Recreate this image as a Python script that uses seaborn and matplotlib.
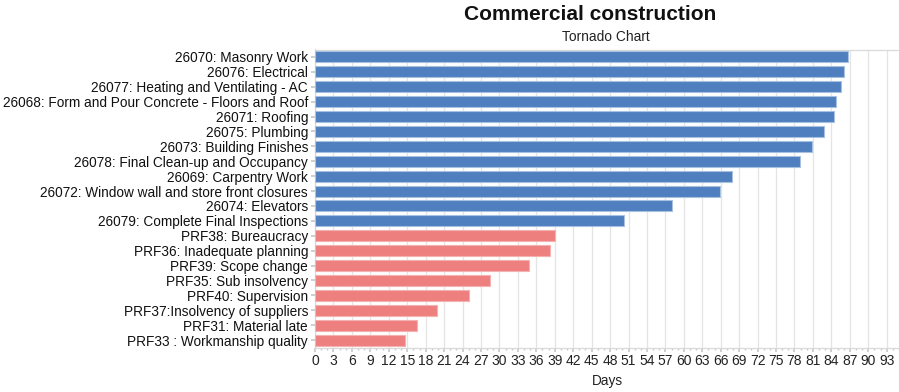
import matplotlib
matplotlib.use("Agg")
import matplotlib.pyplot as plt
import seaborn as sns
import pandas as pd
from matplotlib.ticker import MultipleLocator, FixedLocator

categories = [
    "26070: Masonry Work",
    "26076: Electrical",
    "26077: Heating and Ventilating - AC",
    "26068: Form and Pour Concrete - Floors and Roof",
    "26071: Roofing",
    "26075: Plumbing",
    "26073: Building Finishes",
    "26078: Final Clean-up and Occupancy",
    "26069: Carpentry Work",
    "26072: Window wall and store front closures",
    "26074: Elevators",
    "26079: Complete Final Inspections",
    "PRF38: Bureaucracy",
    "PRF36: Inadequate planning",
    "PRF39: Scope change",
    "PRF35: Sub insolvency",
    "PRF40: Supervision",
    "PRF37:Insolvency of suppliers",
    "PRF31: Material late",
    "PRF33 : Workmanship quality",
]
days = [86.7, 86.0, 85.5, 84.7, 84.5, 82.8, 80.8, 78.9, 67.8, 65.9, 58.1, 50.3,
        39.1, 38.2, 34.8, 28.4, 25.0, 19.9, 16.6, 14.6]
groups = ["Task"] * 12 + ["Risk"] * 8
x_ticks = list(range(0, 94, 3))
palette = {"Task": "#4f7fbf", "Risk": "#ee7f7f"}
edge_palette = {"Task": "#a9c1e0", "Risk": "#f5b0b0"}

df = pd.DataFrame({"category": categories, "days": days, "group": groups})

sns.set_theme(style="white")
plt.rcParams["font.family"] = ["Liberation Sans", "DejaVu Sans"]

W, H = 899, 392
fig = plt.figure(figsize=(W / 100, H / 100), dpi=100)
left, right, top, bottom = 315, 899, 49.5, 347.5
ax = fig.add_axes([left / W, 1 - bottom / H, (right - left) / W, (bottom - top) / H])

sns.barplot(data=df, x="days", y="category", hue="group", palette=palette,
            saturation=1, dodge=False, legend=False, width=0.74, ax=ax, zorder=3)
for bar in ax.patches:
    y = bar.get_y() + bar.get_height() / 2
    idx = int(round(y))
    if 0 <= idx < len(groups):
        bar.set_edgecolor(edge_palette[groups[idx]])
        bar.set_linewidth(0.8)

ax.set_xlim(0, 95)
ax.xaxis.set_major_locator(FixedLocator(x_ticks))
ax.xaxis.set_minor_locator(MultipleLocator(1))
ax.grid(axis="x", which="major", color="#e4e4e4", linewidth=0.9, zorder=0)
ax.set_axisbelow(True)

for s in ["left", "bottom", "top"]:
    ax.spines[s].set_color("#d9d9d9")
    ax.spines[s].set_linewidth(0.9)
ax.spines["right"].set_visible(False)

ax.tick_params(axis="x", which="major", length=3, color="#c8c8c8", labelsize=10,
               labelcolor="#222222", pad=2)
ax.tick_params(axis="x", which="minor", length=1.5, color="#c8c8c8")
ax.tick_params(axis="y", length=3, color="#c8c8c8", labelsize=9.8,
               labelcolor="#111111", pad=2)
ax.tick_params(bottom=True, left=True, which="both")
ax.tick_params(axis="y", which="minor", left=False)

ax.set_ylabel("")
ax.set_xlabel("Days", fontsize=9.8, color="#222222", labelpad=4)

fig.text(590 / W, 1 - 14 / H, "Commercial construction", ha="center", va="center",
         fontsize=15, fontweight="bold", color="#111111")
fig.text(606 / W, 1 - 37 / H, "Tornado Chart", ha="center", va="center",
         fontsize=9.9, color="#222222")

fig.savefig("out.png", dpi=100)
